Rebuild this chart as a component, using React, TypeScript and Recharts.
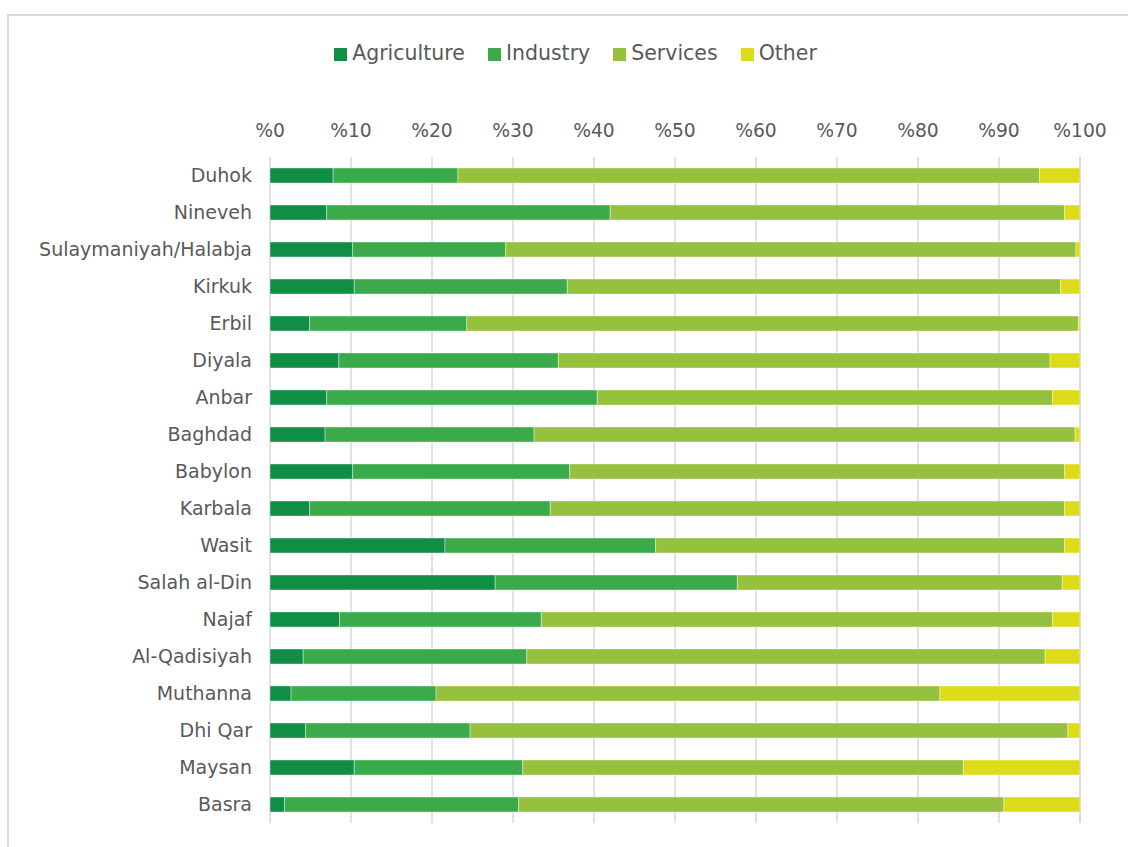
import React from 'react';
import { BarChart, Bar, XAxis, YAxis, CartesianGrid, Legend } from 'recharts';

const governorates = [
  'Duhok', 'Nineveh', 'Sulaymaniyah/Halabja', 'Kirkuk', 'Erbil', 'Diyala', 'Anbar', 'Baghdad', 'Babylon',
  'Karbala', 'Wasit', 'Salah al-Din', 'Najaf', 'Al-Qadisiyah', 'Muthanna', 'Dhi Qar', 'Maysan', 'Basra',
];

const agriculture = [7.8, 7.0, 10.2, 10.4, 4.9, 8.5, 7.0, 6.8, 10.2, 4.9, 21.6, 27.8, 8.6, 4.1, 2.6, 4.4, 10.4, 1.8];
const industry = [15.4, 35.0, 18.9, 26.3, 19.4, 27.1, 33.4, 25.8, 26.8, 29.7, 26.0, 29.9, 24.9, 27.6, 17.9, 20.3, 20.8, 28.9];
const services = [71.8, 56.1, 70.4, 60.9, 75.5, 60.7, 56.2, 66.8, 61.1, 63.5, 50.5, 40.1, 63.1, 64.0, 62.2, 73.8, 54.4, 59.9];
const other = [5.0, 1.9, 0.5, 2.4, 0.2, 3.7, 3.4, 0.6, 1.9, 1.9, 1.9, 2.2, 3.4, 4.3, 17.3, 1.5, 14.4, 9.4];

const xTicks = [0, 10, 20, 30, 40, 50, 60, 70, 80, 90, 100];

const data = governorates.map((name, i) => ({
  name,
  Agriculture: agriculture[i],
  Industry: industry[i],
  Services: services[i],
  Other: other[i],
}));

const FONT = '"DejaVu Sans", "Open Sans", sans-serif';
const TEXT = '#595959';

export default function App() {
  return (
    <div style={{ position: 'absolute', left: 0, top: 0, width: 1128, height: 847, overflow: 'hidden', background: '#fff', fontFamily: FONT }}>
      <div style={{ position: 'absolute', left: 7, top: 14, width: 1200, height: 900, border: '2px solid #d9d9d9' }} />
      <div style={{ position: 'absolute', left: 0, top: 0 }}>
        <BarChart
          width={1128}
          height={847}
          data={data}
          layout="vertical"
          barSize={15}
          margin={{ top: 15, right: 48, bottom: 24, left: 20 }}
        >
          <CartesianGrid horizontal={false} stroke="#d9d9d9" strokeWidth={1.5} />
          <XAxis
            type="number"
            orientation="top"
            domain={[0, 100]}
            ticks={xTicks}
            tickFormatter={(v: number) => `%${v}`}
            axisLine={false}
            tickLine={false}
            tickSize={0}
            tickMargin={20}
            height={116}
            tick={{ fill: TEXT, fontSize: 18.7, fontFamily: FONT }}
          />
          <YAxis
            type="category"
            dataKey="name"
            width={250}
            axisLine={false}
            tickLine={false}
            tickSize={0}
            tickMargin={18}
            interval={0}
            tick={{ fill: TEXT, fontSize: 19, fontFamily: FONT }}
          />
          <Legend
            verticalAlign="top"
            align="center"
            iconType="square"
            iconSize={13}
            itemSorter={null}
            wrapperStyle={{ top: 40, height: 26, lineHeight: '26px', paddingLeft: 37, fontSize: 20.5, fontFamily: FONT }}
            formatter={(value: string) => <span style={{ color: TEXT, marginLeft: 1, marginRight: 13 }}>{value}</span>}
          />
          <Bar dataKey="Agriculture" stackId="a" fill="#108E46" stroke="#ffffff" strokeOpacity={0.5} strokeWidth={0.75} isAnimationActive={false} />
          <Bar dataKey="Industry" stackId="a" fill="#3BAA4A" stroke="#ffffff" strokeOpacity={0.5} strokeWidth={0.75} isAnimationActive={false} />
          <Bar dataKey="Services" stackId="a" fill="#95C13E" stroke="#ffffff" strokeOpacity={0.5} strokeWidth={0.75} isAnimationActive={false} />
          <Bar dataKey="Other" stackId="a" fill="#DEDC1A" stroke="#ffffff" strokeOpacity={0.5} strokeWidth={0.75} isAnimationActive={false} />
        </BarChart>
      </div>
    </div>
  );
}
